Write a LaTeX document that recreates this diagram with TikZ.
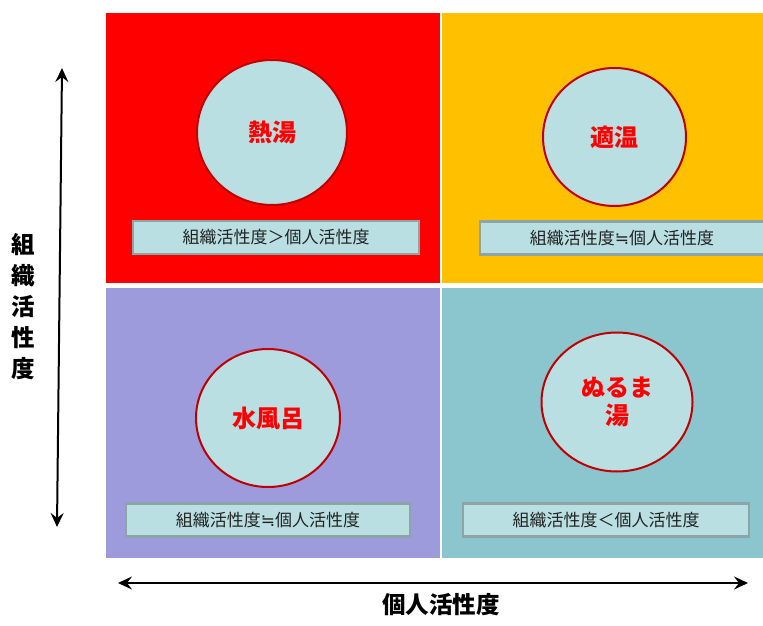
\documentclass[tikz,border=0pt]{standalone}
\usepackage{fontspec}
\newfontfamily\jp{Noto Sans CJK JP}
\newfontfamily\symf{DejaVu Sans}
\newcommand{\approxeq}{{\symf ≒}}
\usetikzlibrary{shapes.geometric,arrows.meta}
\definecolor{qred}{HTML}{FF0000}
\definecolor{qorange}{HTML}{FFC000}
\definecolor{qpurple}{HTML}{9E9BDC}
\definecolor{qteal}{HTML}{8BC5CE}
\definecolor{cfill}{HTML}{BADFE3}
\definecolor{cborder}{HTML}{C00000}
\definecolor{bborder}{HTML}{8EA5A8}
\definecolor{btext}{HTML}{222222}
\tikzset{
  quad/.style={rectangle, draw=none, inner sep=0pt, anchor=north west},
  bubble/.style={ellipse, draw=cborder, line width=2pt, fill=cfill, inner sep=0pt,
     font=\jp\bfseries\fontsize{24}{28}\selectfont, text=qred, align=center},
  tag/.style={rectangle, draw=bborder, line width=2.5pt, fill=cfill, inner sep=0pt,
     minimum height=33pt, font=\jp\fontsize{17}{19}\selectfont, text=btext},
  axislabel/.style={font=\jp\bfseries\fontsize{23.5}{31}\selectfont, text=black, align=center},
  axisarrow/.style={line width=2pt, {Stealth[length=14pt,width=13pt,inset=5pt]}-{Stealth[length=14pt,width=13pt,inset=5pt]}}
}
\begin{document}
\begin{tikzpicture}[x=1pt,y=-1pt]
\fill[white] (0,0) rectangle (763,626);
\useasboundingbox (0,0) rectangle (763,626);
% quadrants
\node[quad, fill=qred, minimum width=334pt, minimum height=270pt] (q1) at (106,13) {};
\node[quad, fill=qorange, minimum width=321pt, minimum height=270pt] (q2) at (442,13) {};
\node[quad, fill=qpurple, minimum width=334pt, minimum height=270pt] (q3) at (106,288) {};
\node[quad, fill=qteal, minimum width=321pt, minimum height=270pt] (q4) at (442,288) {};
% circles
\node[bubble, minimum width=150pt, minimum height=145pt] (c1) at (272,132.5) {熱湯};
\node[bubble, minimum width=143pt, minimum height=138pt] (c2) at (614.5,137) {適温};
\node[bubble, minimum width=144pt, minimum height=138pt] (c3) at (268,418) {水風呂};
\node[bubble, minimum width=151pt, minimum height=139pt] (c4) at (617,402) {ぬるま\\湯};
% tags
\node[tag, minimum width=286pt] (t1) at (276,237.5) {組織活性度＞個人活性度};
\node[tag, minimum width=284pt] (t2) at (622,238) {組織活性度\approxeq 個人活性度};
\node[tag, minimum width=284pt] (t3) at (268,520) {組織活性度\approxeq 個人活性度};
\node[tag, minimum width=286pt] (t4) at (606,520) {組織活性度＜個人活性度};
% axes
\coordinate (va1) at (62,68);
\coordinate (va2) at (57,527);
\coordinate (ha1) at (118,583);
\coordinate (ha2) at (748,583);
\draw[axisarrow] (va1) -- (va2);
\draw[axisarrow] (ha1) -- (ha2);
\node[axislabel] (ylab) at (23,307) {組\\織\\活\\性\\度};
\node[axislabel] (xlab) at (441,605) {個人活性度};
\end{tikzpicture}
\end{document}
